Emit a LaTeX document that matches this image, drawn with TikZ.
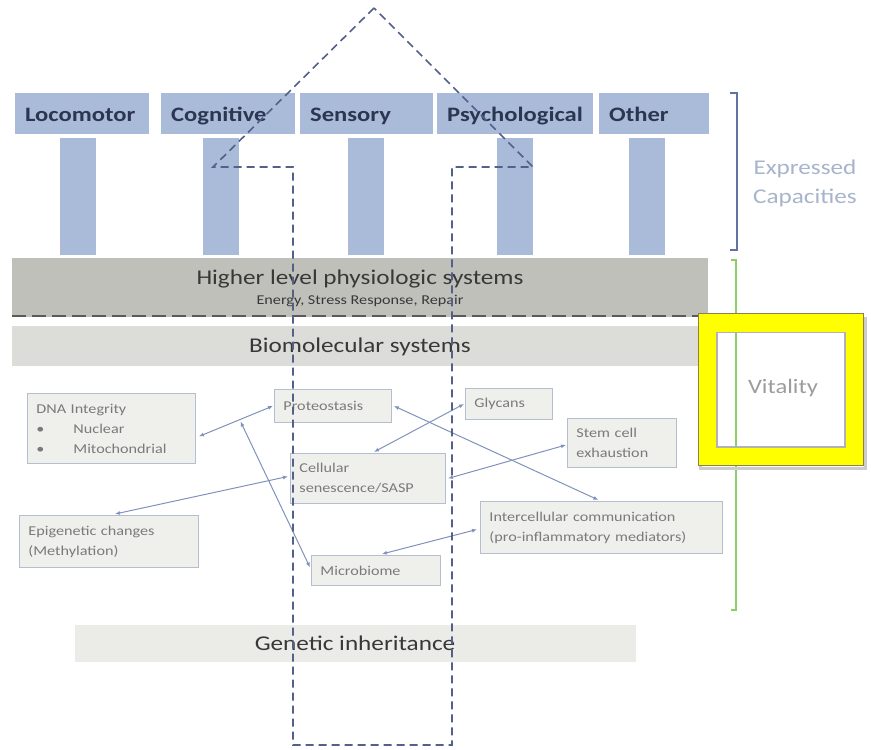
\documentclass[tikz,border=0pt]{standalone}
\usepackage{fontspec}
\setmainfont{Carlito}[FakeStretch=1.2]
\usetikzlibrary{calc,arrows.meta}

\definecolor{capblue}{HTML}{A9BBD8}
\definecolor{captext}{HTML}{2C3652}
\definecolor{highgray}{HTML}{C0C0BB}
\definecolor{biogray}{HTML}{DCDCD8}
\definecolor{genegray}{HTML}{EBEBE7}
\definecolor{smallfill}{HTML}{EFEFEC}
\definecolor{smallline}{HTML}{B4BED0}
\definecolor{smalltext}{HTML}{7A7A7A}
\definecolor{bandtext}{HTML}{383838}
\definecolor{dashblue}{HTML}{52608A}
\definecolor{divgray}{HTML}{5A5A5A}
\definecolor{linkblue}{HTML}{7F92BC}
\definecolor{brackblue}{HTML}{6373A0}
\definecolor{vitgreen}{HTML}{8DCF66}
\definecolor{labgray}{HTML}{A8B4CA}
\definecolor{vitgray}{HTML}{9C9C9C}
\definecolor{hiyellow}{HTML}{FFFF00}
\definecolor{frameline}{HTML}{8C8050}

\tikzset{
  capbox/.style={fill=capblue, text=captext, anchor=north west, inner sep=0pt,
    inner xsep=10pt, minimum height=41pt, align=left,
    text height=20pt, text depth=4pt,
    font=\bfseries\fontsize{20.5}{24}\selectfont},
  pillar/.style={fill=capblue, anchor=north west, inner sep=0pt,
    minimum width=36pt, minimum height=117pt},
  band/.style={anchor=north west, inner sep=0pt},
  bandtitle/.style={text=bandtext, inner sep=0pt, font=\fontsize{21}{25}\selectfont},
  smallbox/.style={fill=smallfill, draw=smallline, line width=0.9pt,
    anchor=north west, inner sep=0pt, inner xsep=9pt, align=left,
    text=smalltext, font=\fontsize{13.5}{20}\selectfont},
  link/.style={draw=linkblue, line width=1pt,
    {Latex[length=5pt,width=4pt]}-{Latex[length=5pt,width=4pt]}},
  house/.style={draw=dashblue, line width=1.6pt, dash pattern=on 8pt off 5pt},
  sidelabel/.style={inner sep=0pt, align=center, font=\fontsize{21}{29}\selectfont}
}

\begin{document}
\begin{tikzpicture}[x=1pt,y=-1pt]
  \useasboundingbox (0,0) rectangle (871,750);

  % expressed capacities
  \node[capbox, text width=114pt] (loco)  at (15,93)  {Locomotor};
  \node[capbox, text width=114pt] (cogn)  at (161,93) {Cognitive};
  \node[capbox, text width=113pt] (sens)  at (300,93) {Sensory};
  \node[capbox, text width=136pt] (psych) at (437,93) {Psychological};
  \node[capbox, text width=90pt]  (other) at (599,93) {Other};

  \node[pillar] (locop)  at (60,138)  {};
  \node[pillar] (cognp)  at (203,138) {};
  \node[pillar] (sensp)  at (348,138) {};
  \node[pillar] (psychp) at (497,138) {};
  \node[pillar] (otherp) at (629,138) {};

  % system bands
  \node[band, fill=highgray, minimum width=696pt, minimum height=59pt] (higher) at (12,258) {};
  \node[bandtitle] (highertitle) at (360,279) {Higher level physiologic systems};
  \node[inner sep=0pt, text=bandtext, font=\fontsize{13.5}{16}\selectfont] (highersub) at (360,301)
    {Energy, Stress Response, Repair};
  \coordinate (divl) at (12,316);
  \coordinate (divr) at (708,316);
  \draw[divgray, line width=2.2pt, dash pattern=on 14pt off 6pt] (divl) -- (divr);

  \node[band, fill=biogray, minimum width=696pt, minimum height=40pt] (bio) at (12,326) {};
  \node[bandtitle] (biotitle) at (360,347) {Biomolecular systems};

  \node[band, fill=genegray, minimum width=561pt, minimum height=37pt] (gene) at (75,625) {};
  \node[bandtitle] (genetitle) at (355,643) {Genetic inheritance};

  % hallmark boxes
  \node[smallbox, minimum width=168pt, minimum height=70pt, text width=150pt] (dna) at (27,393)
    {DNA Integrity\\\makebox[37pt][l]{\textbullet}Nuclear\\\makebox[37pt][l]{\textbullet}Mitochondrial};
  \node[smallbox, minimum width=117pt, minimum height=33pt, text width=99pt] (prot) at (274,389) {Proteostasis};
  \node[smallbox, minimum width=87pt, minimum height=31pt, text width=69pt] (glyc) at (465,388) {Glycans};
  \node[smallbox, minimum width=109pt, minimum height=49pt, text width=91pt] (stem) at (567,418) {Stem cell\\exhaustion};
  \node[smallbox, minimum width=155pt, minimum height=50pt, text width=137pt] (cell) at (290,453) {Cellular\\senescence/SASP};
  \node[smallbox, minimum width=179pt, minimum height=52pt, text width=161pt] (epi) at (19,515) {Epigenetic changes\\(Methylation)};
  \node[smallbox, minimum width=242pt, minimum height=52pt, text width=224pt] (inter) at (480,501) {Intercellular communication\\(pro-inflammatory mediators)};
  \node[smallbox, minimum width=129pt, minimum height=30pt, text width=111pt] (micro) at (311,555) {Microbiome};

  % interactions
  \coordinate (dnaport) at ($(dna.east)+(3,8)$);
  \coordinate (protport) at ($(prot.west)+(-1,0)$);
  \draw[link] (dnaport) -- (protport);
  \coordinate (dnaprot) at ($(dnaport)!0.55!(protport)$);
  \draw[link, shorten >=2pt] ($(micro.west)+(-1,-3)$) -- (dnaprot);
  \draw[link] ($(prot.east)+(2,0)$) -- ($(inter.north)+(-3,-1)$);
  \draw[link] ($(glyc.west)+(-1,0)$) -- ($(cell.north)+(6,-1)$);
  \draw[link] ($(stem.west)+(-1,2)$) -- ($(cell.east)+(2,0)$);
  \draw[link] ($(epi.north)+(6,-1)$) -- ($(cell.west)+(-2,-2)$);
  \draw[link] ($(inter.west)+(-3,2)$) -- ($(micro.north)+(6,-1)$);

  % dashed house outline
  \coordinate (apex) at (374,8);
  \coordinate (eavel) at (213,167);
  \coordinate (innl) at (293,167);
  \coordinate (basel) at (293,745);
  \coordinate (baser) at (452,745);
  \coordinate (innr) at (452,167);
  \coordinate (eaver) at (533,167);
  \draw[house] (apex) -- (eavel) -- (innl) -- (basel) -- (baser) -- (innr) -- (eaver) -- cycle;

  % side brackets
  \coordinate (capt) at (737,93);
  \coordinate (capb) at (737,250);
  \draw[brackblue, line width=1.6pt] ($(capt)+(-7,0)$) -- (capt) -- (capb) -- ($(capb)+(-7,0)$);
  \node[sidelabel, text=labgray] (caplabel) at (805,183) {Expressed\\Capacities};

  \coordinate (vitt) at (736,260);
  \coordinate (vitb) at (736,610);
  \draw[vitgreen, line width=1.6pt] ($(vitt)+(-5,0)$) -- (vitt) -- (vitb) -- ($(vitb)+(-5,0)$);

  % highlighted vitality label
  \draw[black!20, line width=3pt] (700,318) rectangle (865,468);
  \draw[hiyellow, line width=19pt] (707.5,323) rectangle (854,456);
  \draw[frameline, line width=0.8pt] (698,313.5) rectangle (863,465.5);
  \draw[black!30, line width=1.2pt] (717,332.5) rectangle (845,447);
  \node[sidelabel, text=vitgray, font=\fontsize{20.5}{24}\selectfont] (vitlabel) at (783,388) {Vitality};
\end{tikzpicture}
\end{document}
